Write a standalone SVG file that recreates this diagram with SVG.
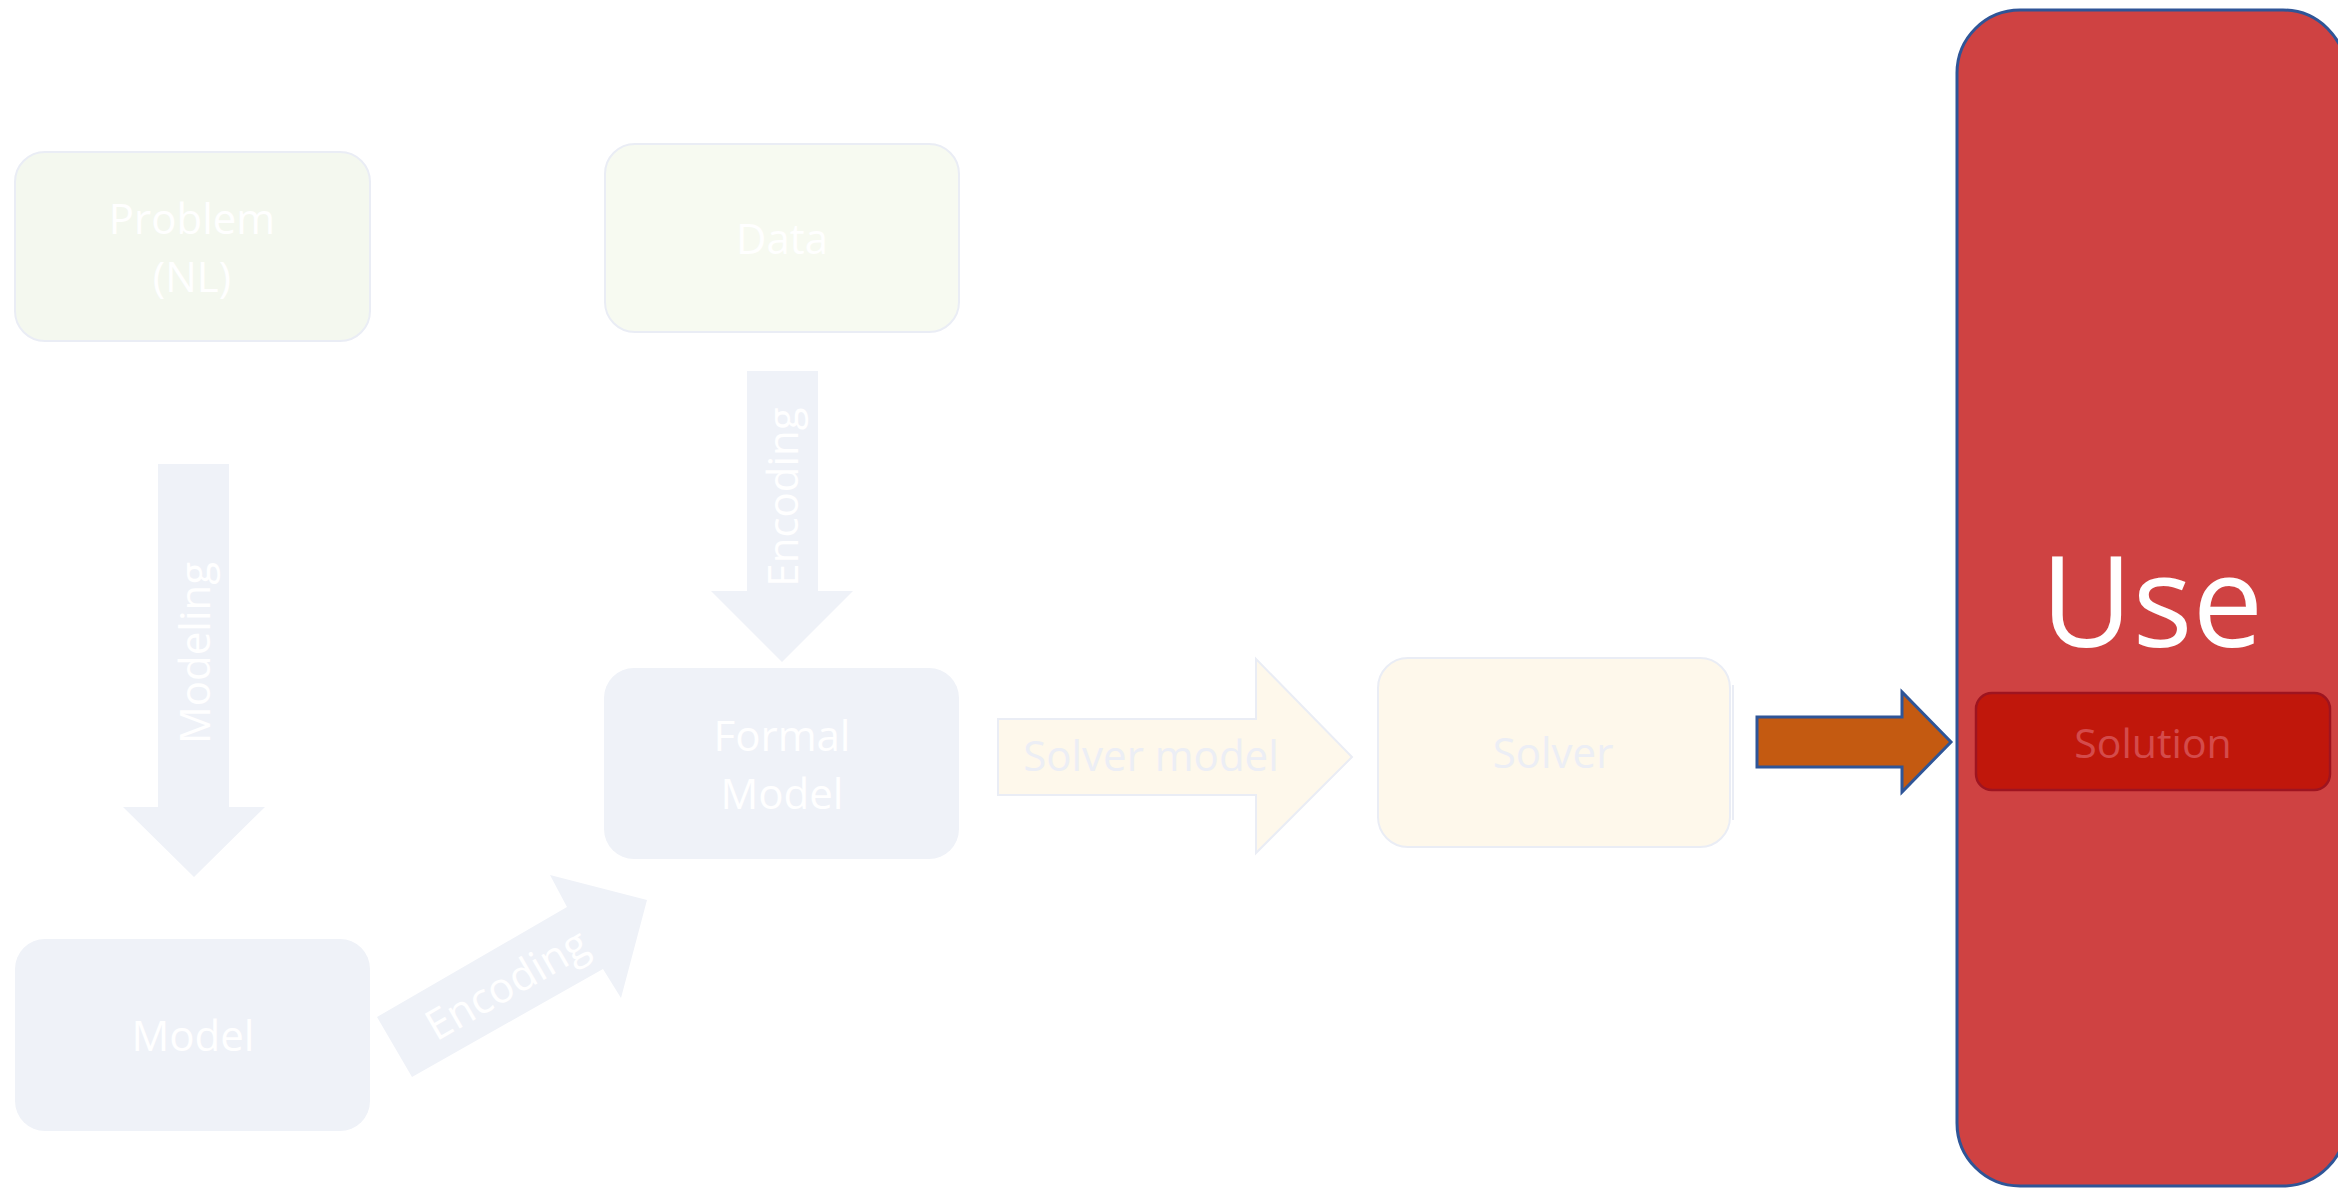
<svg xmlns="http://www.w3.org/2000/svg" width="2338" height="1188" viewBox="0 0 2338 1188">
  <style>
    text { font-family: "Open Sans", "Noto Sans", "DejaVu Sans", sans-serif; }
    .lbl { font-size: 42px; fill: #ffffff; text-anchor: middle; }
    .dim { font-size: 42px; fill: #eceef5; text-anchor: middle; }
    .green { fill: #f4f8ef; stroke: #eaedf5; stroke-width: 2; }
    .green2 { fill: #f7faf1; stroke: #eaedf5; stroke-width: 2; }
    .blue { fill: #eff2f8; }
    .cream { fill: #fef8eb; stroke: #eaedf5; stroke-width: 2; }
    .flow { fill: #eff2f8; }
  </style>

  <rect width="2338" height="1188" fill="#ffffff"/>

  <!-- Nodes -->
  <g id="problem">
    <rect class="green" x="15" y="152" width="355" height="189" rx="30"/>
    <text class="lbl" x="192" y="234">Problem</text>
    <text class="lbl" x="192" y="292">(NL)</text>
  </g>

  <g id="data">
    <rect class="green2" x="605" y="144" width="354" height="188" rx="30"/>
    <text class="lbl" x="782" y="254">Data</text>
  </g>

  <g id="formal-model">
    <rect class="blue" x="604" y="668" width="355" height="191" rx="30"/>
    <text class="lbl" x="782" y="751">Formal</text>
    <text class="lbl" x="782" y="809">Model</text>
  </g>

  <g id="model">
    <rect class="blue" x="15" y="939" width="355" height="192" rx="30"/>
    <text class="lbl" x="193" y="1051">Model</text>
  </g>

  <g id="solver">
    <rect class="cream" x="1378" y="658" width="352" height="189" rx="30"/>
    <line x1="1733" y1="685" x2="1733" y2="820" stroke="#eaedf5" stroke-width="2"/>
    <text class="dim" x="1553" y="768">Solver</text>
  </g>

  <g id="use">
    <rect x="1957" y="10" width="389" height="1176" rx="63" fill="#cf4242" stroke="#2f5597" stroke-width="3"/>
    <text x="2152" y="647" font-size="126" fill="#ffffff" text-anchor="middle">Use</text>
  </g>

  <g id="solution">
    <rect x="1976" y="693" width="354" height="97" rx="16" fill="#c0170b" stroke="#9e1420" stroke-width="2.5"/>
    <text x="2153" y="758" font-size="41" fill="#d44b4b" text-anchor="middle">Solution</text>
  </g>

  <!-- Connectors (block arrows with their labels) -->
  <g id="connectors">
    <g id="modeling-arrow">
      <polygon class="flow" points="158,464 229,464 229,807 265,807 194,877 123,807 158,807"/>
      <text class="lbl" transform="translate(210,653) rotate(-90)">Modeling</text>
    </g>
    <g id="data-encoding-arrow">
      <polygon class="flow" points="747,371 818,371 818,591 853,591 782,662 711,591 747,591"/>
      <text class="lbl" transform="translate(798,497) rotate(-90)">Encoding</text>
    </g>
    <g id="model-encoding-arrow">
      <polygon class="flow" points="377,1017 567,907 550,875 647,900 621,998 603,969 412,1077"/>
      <text class="lbl" transform="translate(514,997) rotate(-30)">Encoding</text>
    </g>
    <g id="solver-model-arrow">
      <polygon class="cream" points="998,719 1256,719 1256,659 1352,757 1256,853 1256,795 998,795"/>
      <text class="dim" x="1151" y="771">Solver model</text>
    </g>
    <g id="solution-arrow">
      <polygon points="1757,717 1902,717 1902,692 1951,742 1902,792 1902,767 1757,767" fill="#c45a11" stroke="#2f5597" stroke-width="3" stroke-linejoin="miter"/>
    </g>
  </g>
</svg>
